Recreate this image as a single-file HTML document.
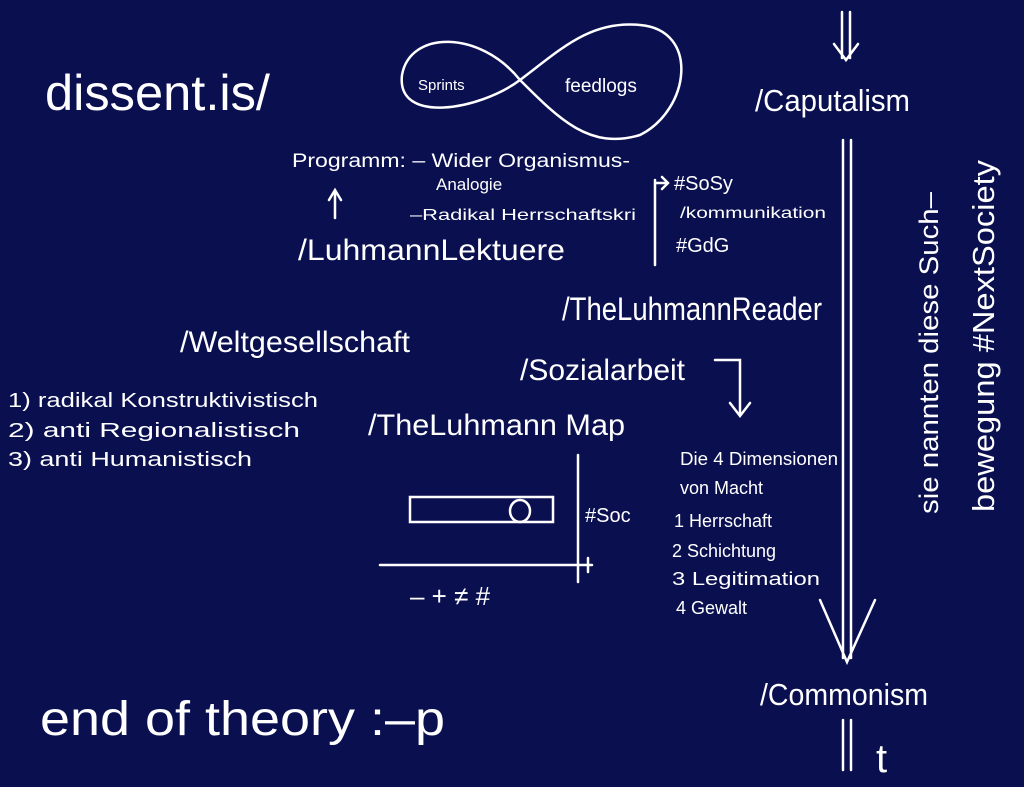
<!DOCTYPE html>
<html><head><meta charset="utf-8"><style>
html,body{margin:0;padding:0;background:#0a0f50;}
svg{display:block}
text{fill:#fff;font-family:"Liberation Sans",sans-serif;}
</style></head><body>
<svg width="1024" height="787" viewBox="0 0 1024 787" xmlns="http://www.w3.org/2000/svg">
<rect width="1024" height="787" fill="#0a0f50"/>
<g stroke="#fff" stroke-width="2.5" fill="none" stroke-linecap="round">
<path d="M520,80 C480,30 410,30 402,75 C396,125 480,110 520,80 C560,50 590,20 640,25 C700,30 690,110 640,135 C590,150 560,120 520,80"/>
<path d="M842,12 L842,58 M850,12 L850,58 M834,44 L846,60 L858,44"/>
<path d="M843,140 L843,658 M851,140 L851,658 M820,600 L847,662 L875,600"/>
<path d="M843,720 L843,770 M851,720 L851,770"/>
<path d="M335,218 L335,192 M329,200 L335,190 L341,200"/>
<path d="M655,180 L655,265 M655,183 L668,183 M662,177 L668,183 L662,189"/>
<path d="M715,360 L740,360 L740,415 M730,403 L740,416 L750,403"/>
<path d="M578,455 L578,582 M380,565 L592,565 M588,558 L588,572"/>
<rect x="410" y="497" width="143" height="25"/>
<ellipse cx="520" cy="511" rx="10" ry="11"/>
</g>
<text x="45" y="110" font-size="50" textLength="225" lengthAdjust="spacingAndGlyphs">dissent.is/</text>
<text x="418" y="90" font-size="15">Sprints</text>
<text x="565" y="92" font-size="19">feedlogs</text>
<text x="755" y="111" font-size="31" textLength="155" lengthAdjust="spacingAndGlyphs">/Caputalism</text>
<text x="292" y="167" font-size="19" textLength="338" lengthAdjust="spacingAndGlyphs">Programm: – Wider Organismus-</text>
<text x="436" y="190" font-size="17">Analogie</text>
<text x="410" y="220" font-size="16" textLength="226" lengthAdjust="spacingAndGlyphs">–Radikal Herrschaftskri</text>
<text x="298" y="260" font-size="30" textLength="267" lengthAdjust="spacingAndGlyphs">/LuhmannLektuere</text>
<text x="674" y="190" font-size="20">#SoSy</text>
<text x="680" y="218" font-size="16" textLength="146" lengthAdjust="spacingAndGlyphs">/kommunikation</text>
<text x="676" y="252" font-size="20">#GdG</text>
<text x="562" y="320" font-size="32" textLength="260" lengthAdjust="spacingAndGlyphs">/TheLuhmannReader</text>
<text x="180" y="352" font-size="30" textLength="230" lengthAdjust="spacingAndGlyphs">/Weltgesellschaft</text>
<text x="520" y="380" font-size="30" textLength="165" lengthAdjust="spacingAndGlyphs">/Sozialarbeit</text>
<text x="8" y="407" font-size="20" textLength="310" lengthAdjust="spacingAndGlyphs">1) radikal Konstruktivistisch</text>
<text x="8" y="437" font-size="20" textLength="292" lengthAdjust="spacingAndGlyphs">2) anti Regionalistisch</text>
<text x="8" y="466" font-size="20" textLength="244" lengthAdjust="spacingAndGlyphs">3) anti Humanistisch</text>
<text x="368" y="435" font-size="30" textLength="257" lengthAdjust="spacingAndGlyphs">/TheLuhmann Map</text>
<text x="585" y="522" font-size="20">#Soc</text>
<text x="410" y="605" font-size="26">– + ≠  #</text>
<text x="680" y="465" font-size="18" textLength="158" lengthAdjust="spacingAndGlyphs">Die 4 Dimensionen</text>
<text x="680" y="494" font-size="18">von Macht</text>
<text x="674" y="527" font-size="18">1 Herrschaft</text>
<text x="672" y="557" font-size="18">2 Schichtung</text>
<text x="672" y="585" font-size="18" textLength="148" lengthAdjust="spacingAndGlyphs">3 Legitimation</text>
<text x="676" y="614" font-size="18">4 Gewalt</text>
<text x="760" y="705" font-size="31" textLength="168" lengthAdjust="spacingAndGlyphs">/Commonism</text>
<text x="876" y="772" font-size="40">t</text>
<text x="40" y="735" font-size="48" textLength="405" lengthAdjust="spacingAndGlyphs">end of theory  :–p</text>
<text transform="translate(938,514) rotate(-90)" font-size="27" textLength="322" lengthAdjust="spacingAndGlyphs">sie nannten diese Such–</text>
<text transform="translate(994,512) rotate(-90)" font-size="31" textLength="352" lengthAdjust="spacingAndGlyphs">bewegung #NextSociety</text>
</svg>
</body></html>
